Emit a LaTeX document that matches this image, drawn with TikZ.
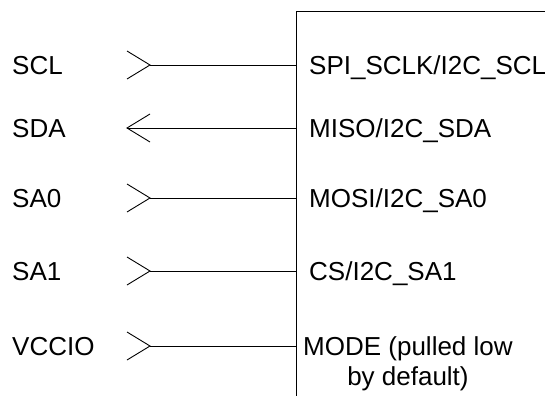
\documentclass[tikz,border=0pt]{standalone}
\usepackage{fontspec}
\setmainfont{Liberation Sans}
\usetikzlibrary{positioning}
\tikzstyle{sig}=[anchor=base west,inner sep=0pt,font=\fontsize{26}{30}\selectfont]
\tikzstyle{pin}=[line width=1pt]
\tikzstyle{chev}=[line width=.9pt]

\begin{document}
\begin{tikzpicture}[x=1pt,y=-1pt]
\useasboundingbox (0,0) rectangle (545,396);
\draw[line width=1pt] (545,12) -- (296,12) -- (296,396);
% host side
\node[sig] (scl) at (12,74.3) {SCL};
\node[sig] (sda) at (12,137.3) {SDA};
\node[sig] (sazero) at (12,207.3) {SA0};
\node[sig] (saone) at (12,280.3) {SA1};
\node[sig] (vccio) at (12,355.3) {VCCIO};
% sensor side
\node[sig] (sclk) at (309,74.3) {SPI\_SCLK/I2C\_SCL};
\node[sig] (miso) at (309,137.3) {MISO/I2C\_SDA};
\node[sig] (mosi) at (309,207.3) {MOSI/I2C\_SA0};
\node[sig] (cs) at (309,280.3) {CS/I2C\_SA1};
\node[anchor=north west,inner sep=0pt,align=center,font=\fontsize{26}{30}\selectfont] (mode) at (303,336.5) {MODE (pulled low\\by default)};
% pins
\coordinate (p1) at (296,65); \coordinate (t1) at (150,65);
\coordinate (p2) at (296,128); \coordinate (t2) at (127,128);
\coordinate (p3) at (296,198); \coordinate (t3) at (150,198);
\coordinate (p4) at (296,271); \coordinate (t4) at (150,271);
\coordinate (p5) at (296,346); \coordinate (t5) at (150,346);
\draw[pin] (p1) -- (t1);
\draw[pin] (p2) -- (t2);
\draw[pin] (p3) -- (t3);
\draw[pin] (p4) -- (t4);
\draw[pin] (p5) -- (t5);
\draw[chev] (t1) ++(-23,-14) -- (t1) -- ++(-23,14);
\draw[chev] (t2) ++(23,-14) -- (t2) -- ++(23,14);
\draw[chev] (t3) ++(-23,-14) -- (t3) -- ++(-23,14);
\draw[chev] (t4) ++(-23,-14) -- (t4) -- ++(-23,14);
\draw[chev] (t5) ++(-23,-14) -- (t5) -- ++(-23,14);
\end{tikzpicture}
\end{document}
